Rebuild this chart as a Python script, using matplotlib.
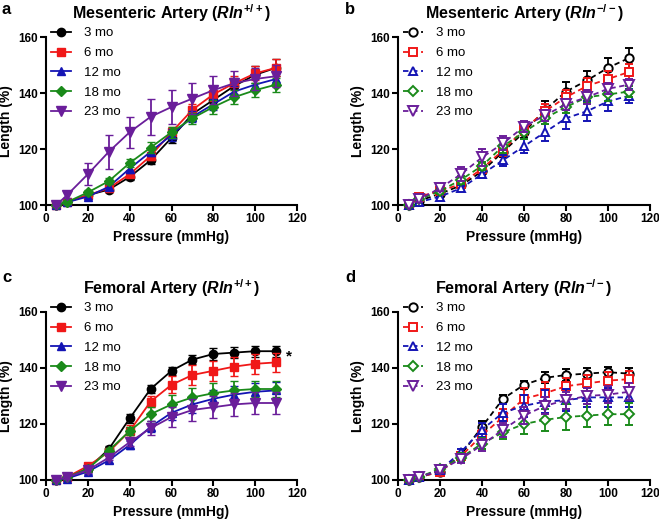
import matplotlib
matplotlib.use("Agg")
import matplotlib.pyplot as plt

plt.rcParams["font.family"] = "Liberation Sans"
plt.rcParams["mathtext.fontset"] = "custom"
plt.rcParams["mathtext.it"] = "Liberation Sans:bold:italic"
plt.rcParams["mathtext.rm"] = "Liberation Sans:bold"
plt.rcParams["mathtext.bf"] = "Liberation Sans:bold"

# Pressure steps (mmHg)
pressure = [5, 10, 20, 30, 40, 50, 60, 70, 80, 90, 100, 110]
ages = ["3 mo", "6 mo", "12 mo", "18 mo", "23 mo"]

# Panel a: mesenteric artery, Rln +/+
a_3mo = [100, 101, 103.5, 105.5, 110, 116, 124, 132.5, 137.5, 142.5, 146.5, 149]
a_6mo = [100, 101, 103.5, 106, 111, 117.5, 126, 134, 139.5, 143.5, 147, 149]
a_12mo = [100, 101, 103, 106.5, 113, 119, 125, 131.5, 136, 140.5, 143, 145]
a_18mo = [100, 101, 104.5, 108.5, 115, 120.5, 126, 131, 135, 138.5, 141, 143]
a_23mo = [100, 103.5, 111, 119, 126, 131.5, 135, 138, 141, 143.5, 145, 146]
a_3mo_err = [0.5, 0.5, 1, 1, 1, 1.5, 2, 2, 2.5, 3, 3, 3]
a_6mo_err = [0.5, 0.5, 1, 1, 1, 1.5, 2, 2, 2.5, 2.5, 2.5, 3]
a_12mo_err = [0.5, 0.5, 1, 1, 1.5, 1.5, 2, 2, 2, 2, 2, 2]
a_18mo_err = [0.5, 0.5, 1, 1, 1.5, 2, 2, 2, 2.5, 2.5, 2.5, 2.5]
a_23mo_err = [0.5, 1, 4, 6, 5.5, 6.5, 6, 5.5, 5, 4.5, 4, 4]

# Panel b: mesenteric artery, Rln -/-
b_3mo = [100, 101.5, 104, 107, 112, 119, 126, 134, 140.5, 144.5, 149, 152.5]
b_6mo = [100, 103, 105, 107.5, 113, 119.5, 127, 133.5, 138.5, 142.5, 145, 147.5]
b_12mo = [100, 101, 103, 106, 111, 116, 121, 126, 131, 133.5, 137, 139]
b_18mo = [100, 102, 105, 109, 114, 121, 126, 131, 135, 138.5, 139.5, 140.5]
b_23mo = [100, 102, 106, 111, 117, 122, 128, 132, 136, 138.5, 141.5, 143]
b_3mo_err = [0.5, 0.5, 1, 1, 1.5, 2, 2, 3, 3.5, 3.5, 3.5, 3.5]
b_6mo_err = [0.5, 1, 1, 1, 1.5, 2, 2, 2.5, 2.5, 3, 3, 3]
b_12mo_err = [0.5, 1, 1, 1, 1.5, 2, 2.5, 3, 4, 3.5, 3.5, 2.5]
b_18mo_err = [0.5, 0.5, 1, 1.5, 1.5, 2.5, 2.5, 2, 2, 2, 2.5, 2]
b_23mo_err = [0.5, 1, 1, 2.5, 3, 2.5, 2, 2, 2, 2.5, 2, 2]

# Panel c: femoral artery, Rln +/+
c_3mo = [100, 101, 104, 111, 122, 132.5, 139, 143, 145, 145.5, 146, 146]
c_6mo = [100, 101, 105, 110, 117.5, 128, 134, 137.5, 139, 140.5, 141.5, 142]
c_12mo = [100, 100.5, 103, 107, 112.5, 119, 124, 127, 129, 130.5, 131.5, 132]
c_18mo = [100, 101, 104, 110.5, 117.5, 123.5, 127, 129.5, 131, 132, 132.5, 132.5]
c_23mo = [100, 101, 103.5, 108, 113.5, 118.5, 122.5, 125, 126, 127, 127.5, 127.5]
c_3mo_err = [0.5, 0.5, 1, 1, 1.5, 1.5, 1.5, 1.5, 2, 2, 2, 2]
c_6mo_err = [0.5, 0.5, 1, 1, 2, 2, 3, 3.5, 3.5, 3.5, 3.5, 3.5]
c_12mo_err = [0.5, 0.5, 1, 1, 1.5, 2, 2.5, 3, 3, 3, 3, 3]
c_18mo_err = [0.5, 0.5, 1, 1, 1.5, 2.5, 3.5, 3.5, 3.5, 3.5, 3, 3]
c_23mo_err = [0.5, 0.5, 1, 1, 1.5, 2.5, 3.5, 4, 4, 4, 4, 4]

# Panel d: femoral artery, Rln -/-
d_3mo = [100, 101, 103, 109, 119, 129, 134, 136.5, 137.5, 138, 138.5, 138]
d_6mo = [100, 101, 103, 108.5, 116, 122.5, 129, 131, 133.5, 134.5, 135.5, 136]
d_12mo = [100, 101, 103.5, 110, 118, 124, 126.5, 128, 128.5, 129.5, 129.5, 129.5]
d_18mo = [100, 101, 104, 108, 113, 117, 120, 121.5, 122.5, 123, 123.5, 123.5]
d_23mo = [100, 101, 103.5, 107.5, 112.5, 118, 123, 126.5, 128.5, 130, 130.5, 131.5]
d_3mo_err = [0.5, 0.5, 1, 1, 2, 1.5, 1.5, 2, 2, 2, 2, 2]
d_6mo_err = [0.5, 0.5, 1, 1, 2, 3, 4, 4, 3, 3, 3, 3]
d_12mo_err = [0.5, 0.5, 1, 1, 2.5, 3, 4, 4, 4, 3.5, 3.5, 3.5]
d_18mo_err = [0.5, 0.5, 1.5, 1.5, 2, 2.5, 3.5, 4, 4.5, 4, 4, 4]
d_23mo_err = [0.5, 0.5, 1, 1.5, 2, 2.5, 3, 3, 3, 3, 3, 3]

colors = ["black", "#f01818", "#1414b4", "#1a8a1a", "#6a1e9a"]
markers = ["o", "s", "^", "D", "v"]
msizes = [6, 6, 6, 5, 6.5]

panels = [
    ("a", r"Mesenteric Artery ($Rln^{+/+}$)", False,
     [a_3mo, a_6mo, a_12mo, a_18mo, a_23mo],
     [a_3mo_err, a_6mo_err, a_12mo_err, a_18mo_err, a_23mo_err]),
    ("b", r"Mesenteric Artery ($Rln^{-/-}$)", True,
     [b_3mo, b_6mo, b_12mo, b_18mo, b_23mo],
     [b_3mo_err, b_6mo_err, b_12mo_err, b_18mo_err, b_23mo_err]),
    ("c", r"Femoral Artery ($Rln^{+/+}$)", False,
     [c_3mo, c_6mo, c_12mo, c_18mo, c_23mo],
     [c_3mo_err, c_6mo_err, c_12mo_err, c_18mo_err, c_23mo_err]),
    ("d", r"Femoral Artery ($Rln^{-/-}$)", True,
     [d_3mo, d_6mo, d_12mo, d_18mo, d_23mo],
     [d_3mo_err, d_6mo_err, d_12mo_err, d_18mo_err, d_23mo_err]),
]

W, H = 659, 520
fig = plt.figure(figsize=(W / 100, H / 100), dpi=100)

# axes boxes in pixels: left, right, top, bottom
boxes = [(46, 297, 37, 205), (398, 650, 37, 205),
         (46, 297, 312, 480), (398, 650, 312, 480)]

for (label, title, hollow, means, errs), (l, r, t, b) in zip(panels, boxes):
    ax = fig.add_axes([l / W, 1 - b / H, (r - l) / W, (b - t) / H])
    for i in range(5):
        ls = (0, (3, 2)) if hollow else "-"
        face = "white" if hollow else colors[i]
        ax.errorbar(pressure, means[i], yerr=errs[i], color=colors[i],
                    ls=ls, lw=1.3, marker=markers[i], ms=msizes[i],
                    mfc=face, mec=colors[i], mew=1.4 if hollow else 1,
                    elinewidth=1.3, capsize=3, capthick=1.3,
                    label=ages[i], clip_on=False, zorder=3 + i)

    ax.set_xlim(0, 120)
    ax.set_ylim(100, 160)
    ax.set_xticks([0, 20, 40, 60, 80, 100, 120])
    ax.set_yticks([100, 120, 140, 160])
    for side in ["top", "right"]:
        ax.spines[side].set_visible(False)
    for side in ["left", "bottom"]:
        ax.spines[side].set_linewidth(1.5)
    ax.tick_params(direction="out", length=4, width=1.5, labelsize=8.5, pad=1.5)
    for tl in ax.get_xticklabels() + ax.get_yticklabels():
        tl.set_fontweight("bold")
    ax.set_xlabel("Pressure (mmHg)", fontsize=10, fontweight="bold", labelpad=4)
    ax.set_ylabel("Length (%)", fontsize=10, fontweight="bold")
    ax.yaxis.set_label_coords(-0.13, 0.5)
    ax.set_title(title, fontsize=11.5, fontweight="bold", pad=13)

    handles, labels = ax.get_legend_handles_labels()
    handles = [h[0] for h in handles]
    ax.legend(handles, labels, loc="upper left", bbox_to_anchor=(0.0, 1.09),
              frameon=False, fontsize=9.5, handlelength=1.5, handletextpad=1.0,
              labelspacing=0.57, borderaxespad=0.0, borderpad=0.4)

    fig.text((2 if l < 100 else 345) / W, 1 - (10 if t < 100 else 278) / H,
             label, fontsize=12, fontweight="bold", va="center", ha="left")

    if label == "c":
        ax.text(116, 144, "*", fontsize=11, fontweight="bold",
                ha="center", va="center", clip_on=False)

fig.savefig("out.png", dpi=100)
